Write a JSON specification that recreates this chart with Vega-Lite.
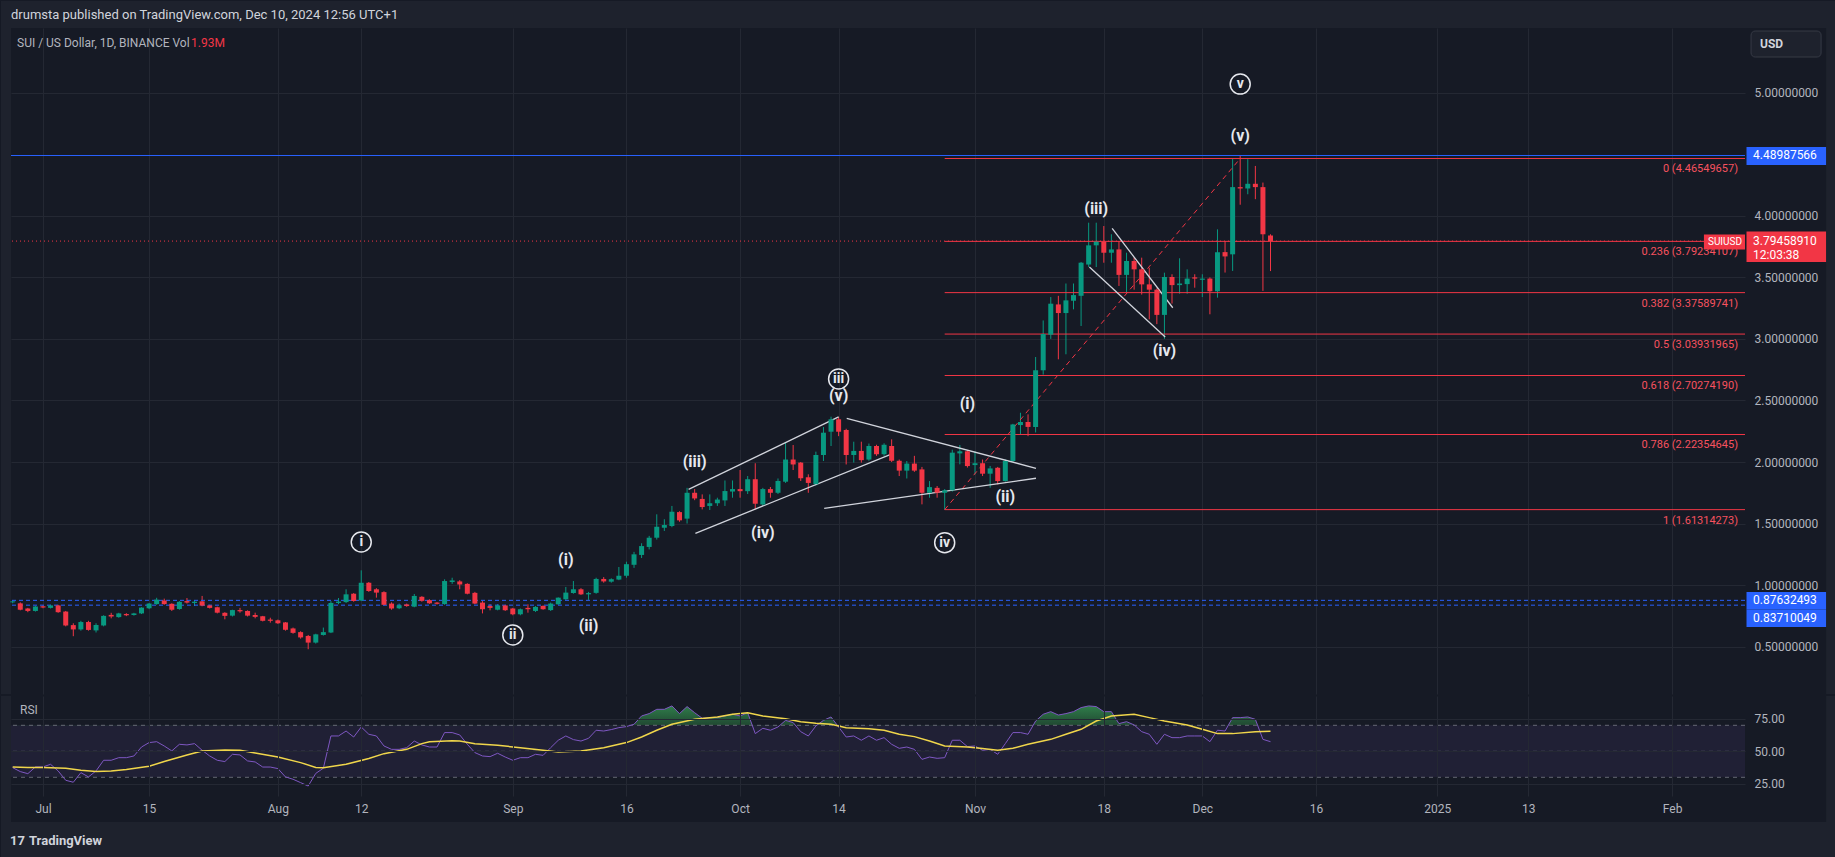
{
"$schema":"https://vega.github.io/schema/vega-lite/v6.json",
"background":"#161a25",
"padding":0,
"config":{"view":{"stroke":null},"font":"Roboto","concat":{"spacing":2},"axis":{"labelFont":"Roboto"},"text":{"font":"Roboto"}},
"datasets":{
"candles":[
{"t":"2024-06-27","o":0.860,"h":0.876,"l":0.852,"c":0.868,"rsi":37.4},
{"t":"2024-06-28","o":0.852,"h":0.86,"l":0.795,"c":0.80,"rsi":34.4},
{"t":"2024-06-29","o":0.81,"h":0.815,"l":0.78,"c":0.79,"rsi":32.8},
{"t":"2024-06-30","o":0.79,"h":0.83,"l":0.785,"c":0.826,"rsi":38},
{"t":"2024-07-01","o":0.828,"h":0.835,"l":0.812,"c":0.818,"rsi":38},
{"t":"2024-07-02","o":0.815,"h":0.84,"l":0.81,"c":0.835,"rsi":40},
{"t":"2024-07-03","o":0.835,"h":0.84,"l":0.775,"c":0.78,"rsi":34.9},
{"t":"2024-07-04","o":0.785,"h":0.79,"l":0.665,"c":0.672,"rsi":27.7},
{"t":"2024-07-05","o":0.675,"h":0.69,"l":0.585,"c":0.64,"rsi":26.2},
{"t":"2024-07-06","o":0.64,"h":0.71,"l":0.63,"c":0.70,"rsi":33.6},
{"t":"2024-07-07","o":0.70,"h":0.71,"l":0.63,"c":0.636,"rsi":30.3},
{"t":"2024-07-08","o":0.632,"h":0.69,"l":0.615,"c":0.676,"rsi":34.9},
{"t":"2024-07-09","o":0.672,"h":0.755,"l":0.665,"c":0.75,"rsi":43.1},
{"t":"2024-07-10","o":0.758,"h":0.775,"l":0.73,"c":0.745,"rsi":43.1},
{"t":"2024-07-11","o":0.74,"h":0.775,"l":0.735,"c":0.77,"rsi":45.1},
{"t":"2024-07-12","o":0.765,"h":0.772,"l":0.748,"c":0.755,"rsi":45.1},
{"t":"2024-07-13","o":0.757,"h":0.775,"l":0.752,"c":0.77,"rsi":46.4},
{"t":"2024-07-14","o":0.77,"h":0.82,"l":0.765,"c":0.817,"rsi":53.3},
{"t":"2024-07-15","o":0.812,"h":0.855,"l":0.805,"c":0.85,"rsi":56.7},
{"t":"2024-07-16","o":0.846,"h":0.897,"l":0.84,"c":0.882,"rsi":57.4},
{"t":"2024-07-17","o":0.875,"h":0.89,"l":0.84,"c":0.846,"rsi":54.1},
{"t":"2024-07-18","o":0.848,"h":0.852,"l":0.79,"c":0.80,"rsi":50.3},
{"t":"2024-07-19","o":0.806,"h":0.87,"l":0.80,"c":0.864,"rsi":55.4},
{"t":"2024-07-20","o":0.87,"h":0.895,"l":0.85,"c":0.858,"rsi":54.9},
{"t":"2024-07-21","o":0.855,"h":0.875,"l":0.83,"c":0.865,"rsi":55.9},
{"t":"2024-07-22","o":0.868,"h":0.912,"l":0.828,"c":0.833,"rsi":50.8},
{"t":"2024-07-23","o":0.835,"h":0.84,"l":0.81,"c":0.815,"rsi":46.4},
{"t":"2024-07-24","o":0.82,"h":0.825,"l":0.77,"c":0.776,"rsi":43.1},
{"t":"2024-07-25","o":0.775,"h":0.78,"l":0.722,"c":0.75,"rsi":42.1},
{"t":"2024-07-26","o":0.752,"h":0.80,"l":0.745,"c":0.797,"rsi":47.7},
{"t":"2024-07-27","o":0.797,"h":0.815,"l":0.776,"c":0.787,"rsi":47.2},
{"t":"2024-07-28","o":0.79,"h":0.795,"l":0.745,"c":0.752,"rsi":42.6},
{"t":"2024-07-29","o":0.757,"h":0.776,"l":0.73,"c":0.742,"rsi":41.8},
{"t":"2024-07-30","o":0.747,"h":0.75,"l":0.705,"c":0.71,"rsi":37.9},
{"t":"2024-07-31","o":0.72,"h":0.735,"l":0.695,"c":0.71,"rsi":37.9},
{"t":"2024-08-01","o":0.714,"h":0.72,"l":0.685,"c":0.69,"rsi":36.7},
{"t":"2024-08-02","o":0.697,"h":0.70,"l":0.63,"c":0.637,"rsi":30.3},
{"t":"2024-08-03","o":0.648,"h":0.655,"l":0.605,"c":0.612,"rsi":28.5},
{"t":"2024-08-04","o":0.618,"h":0.625,"l":0.565,"c":0.575,"rsi":25.9},
{"t":"2024-08-05","o":0.587,"h":0.595,"l":0.479,"c":0.533,"rsi":23.3},
{"t":"2024-08-06","o":0.533,"h":0.605,"l":0.525,"c":0.60,"rsi":33},
{"t":"2024-08-07","o":0.595,"h":0.655,"l":0.59,"c":0.618,"rsi":37},
{"t":"2024-08-08","o":0.615,"h":0.87,"l":0.61,"c":0.855,"rsi":61.8},
{"t":"2024-08-09","o":0.855,"h":0.895,"l":0.845,"c":0.866,"rsi":61.8},
{"t":"2024-08-10","o":0.862,"h":0.966,"l":0.855,"c":0.925,"rsi":65.6},
{"t":"2024-08-11","o":0.93,"h":0.935,"l":0.865,"c":0.871,"rsi":61},
{"t":"2024-08-12","o":0.875,"h":1.12,"l":0.87,"c":1.019,"rsi":68.7},
{"t":"2024-08-13","o":1.019,"h":1.025,"l":0.945,"c":0.952,"rsi":63.1},
{"t":"2024-08-14","o":0.966,"h":0.975,"l":0.898,"c":0.939,"rsi":61.8},
{"t":"2024-08-15","o":0.943,"h":0.95,"l":0.835,"c":0.84,"rsi":54.1},
{"t":"2024-08-16","o":0.85,"h":0.86,"l":0.80,"c":0.81,"rsi":51.5},
{"t":"2024-08-17","o":0.812,"h":0.85,"l":0.805,"c":0.836,"rsi":51.5},
{"t":"2024-08-18","o":0.843,"h":0.85,"l":0.824,"c":0.83,"rsi":52.8},
{"t":"2024-08-19","o":0.825,"h":0.928,"l":0.82,"c":0.912,"rsi":57.9},
{"t":"2024-08-20","o":0.905,"h":0.91,"l":0.865,"c":0.872,"rsi":54.9},
{"t":"2024-08-21","o":0.878,"h":0.885,"l":0.848,"c":0.852,"rsi":53.3},
{"t":"2024-08-22","o":0.858,"h":0.862,"l":0.842,"c":0.848,"rsi":53.3},
{"t":"2024-08-23","o":0.846,"h":1.047,"l":0.84,"c":1.033,"rsi":64.4},
{"t":"2024-08-24","o":1.025,"h":1.06,"l":1.01,"c":1.038,"rsi":64.4},
{"t":"2024-08-25","o":1.03,"h":1.04,"l":0.966,"c":1.005,"rsi":62.6},
{"t":"2024-08-26","o":1.01,"h":1.015,"l":0.925,"c":0.93,"rsi":55.4},
{"t":"2024-08-27","o":0.937,"h":0.945,"l":0.845,"c":0.85,"rsi":49},
{"t":"2024-08-28","o":0.858,"h":0.87,"l":0.77,"c":0.804,"rsi":46.4},
{"t":"2024-08-29","o":0.83,"h":0.845,"l":0.795,"c":0.815,"rsi":45.9},
{"t":"2024-08-30","o":0.80,"h":0.845,"l":0.795,"c":0.835,"rsi":48.5},
{"t":"2024-08-31","o":0.835,"h":0.84,"l":0.79,"c":0.796,"rsi":45.6},
{"t":"2024-09-01","o":0.81,"h":0.815,"l":0.755,"c":0.763,"rsi":43.1},
{"t":"2024-09-02","o":0.763,"h":0.81,"l":0.755,"c":0.804,"rsi":45.1},
{"t":"2024-09-03","o":0.815,"h":0.844,"l":0.776,"c":0.804,"rsi":45.1},
{"t":"2024-09-04","o":0.79,"h":0.83,"l":0.782,"c":0.823,"rsi":47.7},
{"t":"2024-09-05","o":0.831,"h":0.835,"l":0.80,"c":0.804,"rsi":46.9},
{"t":"2024-09-06","o":0.797,"h":0.858,"l":0.79,"c":0.85,"rsi":52.8},
{"t":"2024-09-07","o":0.844,"h":0.90,"l":0.84,"c":0.898,"rsi":58.5},
{"t":"2024-09-08","o":0.885,"h":0.985,"l":0.88,"c":0.939,"rsi":61.8},
{"t":"2024-09-09","o":0.936,"h":1.033,"l":0.93,"c":0.966,"rsi":59},
{"t":"2024-09-10","o":0.966,"h":0.975,"l":0.92,"c":0.925,"rsi":57.9},
{"t":"2024-09-11","o":0.925,"h":0.945,"l":0.88,"c":0.935,"rsi":60},
{"t":"2024-09-12","o":0.937,"h":1.06,"l":0.93,"c":1.05,"rsi":66.2},
{"t":"2024-09-13","o":1.05,"h":1.065,"l":1.02,"c":1.03,"rsi":65.6},
{"t":"2024-09-14","o":1.028,"h":1.055,"l":1.02,"c":1.048,"rsi":66.7},
{"t":"2024-09-15","o":1.045,"h":1.147,"l":1.04,"c":1.076,"rsi":68.2},
{"t":"2024-09-16","o":1.076,"h":1.19,"l":1.06,"c":1.17,"rsi":69},
{"t":"2024-09-17","o":1.165,"h":1.27,"l":1.14,"c":1.25,"rsi":70.8},
{"t":"2024-09-18","o":1.245,"h":1.34,"l":1.22,"c":1.317,"rsi":77.2},
{"t":"2024-09-19","o":1.31,"h":1.40,"l":1.29,"c":1.385,"rsi":79},
{"t":"2024-09-20","o":1.385,"h":1.575,"l":1.37,"c":1.474,"rsi":82.3},
{"t":"2024-09-21","o":1.466,"h":1.535,"l":1.44,"c":1.488,"rsi":82.3},
{"t":"2024-09-22","o":1.48,"h":1.643,"l":1.47,"c":1.596,"rsi":84.9},
{"t":"2024-09-23","o":1.593,"h":1.60,"l":1.515,"c":1.526,"rsi":79},
{"t":"2024-09-24","o":1.54,"h":1.79,"l":1.50,"c":1.75,"rsi":84.4},
{"t":"2024-09-25","o":1.75,"h":1.78,"l":1.69,"c":1.704,"rsi":79.7},
{"t":"2024-09-26","o":1.70,"h":1.737,"l":1.615,"c":1.634,"rsi":75.4},
{"t":"2024-09-27","o":1.643,"h":1.737,"l":1.61,"c":1.665,"rsi":75.9},
{"t":"2024-09-28","o":1.665,"h":1.71,"l":1.643,"c":1.695,"rsi":75.9},
{"t":"2024-09-29","o":1.688,"h":1.85,"l":1.643,"c":1.764,"rsi":77.2},
{"t":"2024-09-30","o":1.76,"h":1.85,"l":1.71,"c":1.78,"rsi":78.5},
{"t":"2024-10-01","o":1.78,"h":1.935,"l":1.71,"c":1.763,"rsi":77.2},
{"t":"2024-10-02","o":1.763,"h":1.886,"l":1.74,"c":1.86,"rsi":79.7},
{"t":"2024-10-03","o":1.86,"h":1.99,"l":1.616,"c":1.661,"rsi":63.6},
{"t":"2024-10-04","o":1.655,"h":1.79,"l":1.643,"c":1.78,"rsi":67.7},
{"t":"2024-10-05","o":1.78,"h":1.797,"l":1.71,"c":1.75,"rsi":66.2},
{"t":"2024-10-06","o":1.75,"h":1.866,"l":1.74,"c":1.846,"rsi":68.7},
{"t":"2024-10-07","o":1.84,"h":2.162,"l":1.83,"c":2.02,"rsi":73.8},
{"t":"2024-10-08","o":2.02,"h":2.138,"l":1.935,"c":1.98,"rsi":72.1},
{"t":"2024-10-09","o":1.995,"h":2.0,"l":1.846,"c":1.868,"rsi":65.1},
{"t":"2024-10-10","o":1.876,"h":1.90,"l":1.75,"c":1.83,"rsi":61.8},
{"t":"2024-10-11","o":1.82,"h":2.084,"l":1.81,"c":2.057,"rsi":69.5},
{"t":"2024-10-12","o":2.057,"h":2.284,"l":2.008,"c":2.238,"rsi":73.8},
{"t":"2024-10-13","o":2.246,"h":2.368,"l":2.13,"c":2.347,"rsi":76.4},
{"t":"2024-10-14","o":2.347,"h":2.366,"l":2.21,"c":2.246,"rsi":68.7},
{"t":"2024-10-15","o":2.26,"h":2.27,"l":1.98,"c":2.057,"rsi":61},
{"t":"2024-10-16","o":2.057,"h":2.165,"l":1.995,"c":2.09,"rsi":61.8},
{"t":"2024-10-17","o":2.09,"h":2.165,"l":1.995,"c":2.015,"rsi":58.5},
{"t":"2024-10-18","o":2.02,"h":2.15,"l":2.01,"c":2.13,"rsi":61.8},
{"t":"2024-10-19","o":2.13,"h":2.14,"l":2.05,"c":2.063,"rsi":58.5},
{"t":"2024-10-20","o":2.063,"h":2.152,"l":2.05,"c":2.14,"rsi":60.5},
{"t":"2024-10-21","o":2.13,"h":2.184,"l":2.0,"c":2.01,"rsi":55.4},
{"t":"2024-10-22","o":2.01,"h":2.02,"l":1.886,"c":1.93,"rsi":52.3},
{"t":"2024-10-23","o":1.93,"h":2.008,"l":1.866,"c":1.987,"rsi":53.3},
{"t":"2024-10-24","o":1.987,"h":2.05,"l":1.92,"c":1.93,"rsi":51.5},
{"t":"2024-10-25","o":1.94,"h":1.96,"l":1.656,"c":1.75,"rsi":43.8},
{"t":"2024-10-26","o":1.75,"h":1.845,"l":1.71,"c":1.796,"rsi":45.6},
{"t":"2024-10-27","o":1.79,"h":1.805,"l":1.71,"c":1.75,"rsi":44.6},
{"t":"2024-10-28","o":1.75,"h":1.78,"l":1.6131,"c":1.77,"rsi":45.1},
{"t":"2024-10-29","o":1.77,"h":2.10,"l":1.76,"c":2.076,"rsi":58.5},
{"t":"2024-10-30","o":2.07,"h":2.138,"l":1.981,"c":2.087,"rsi":58.5},
{"t":"2024-10-31","o":2.087,"h":2.095,"l":1.955,"c":1.967,"rsi":53.6},
{"t":"2024-11-01","o":1.975,"h":2.087,"l":1.90,"c":1.99,"rsi":54.1},
{"t":"2024-11-02","o":1.99,"h":2.02,"l":1.886,"c":1.905,"rsi":50.8},
{"t":"2024-11-03","o":1.905,"h":1.968,"l":1.791,"c":1.948,"rsi":51.5},
{"t":"2024-11-04","o":1.953,"h":1.96,"l":1.818,"c":1.845,"rsi":47.7},
{"t":"2024-11-05","o":1.845,"h":2.02,"l":1.84,"c":2.008,"rsi":55.9},
{"t":"2024-11-06","o":2.008,"h":2.31,"l":2.0,"c":2.305,"rsi":64.4},
{"t":"2024-11-07","o":2.30,"h":2.40,"l":2.225,"c":2.325,"rsi":64.4},
{"t":"2024-11-08","o":2.325,"h":2.387,"l":2.21,"c":2.285,"rsi":63.1},
{"t":"2024-11-09","o":2.285,"h":2.853,"l":2.24,"c":2.745,"rsi":73.3},
{"t":"2024-11-10","o":2.745,"h":3.15,"l":2.71,"c":3.04,"rsi":78.5},
{"t":"2024-11-11","o":3.034,"h":3.34,"l":3.0,"c":3.286,"rsi":80.5},
{"t":"2024-11-12","o":3.28,"h":3.35,"l":2.834,"c":3.21,"rsi":77.9},
{"t":"2024-11-13","o":3.21,"h":3.45,"l":2.875,"c":3.313,"rsi":79},
{"t":"2024-11-14","o":3.31,"h":3.45,"l":3.24,"c":3.356,"rsi":80.5},
{"t":"2024-11-15","o":3.35,"h":3.625,"l":3.105,"c":3.619,"rsi":83.6},
{"t":"2024-11-16","o":3.604,"h":3.944,"l":3.584,"c":3.76,"rsi":84.9},
{"t":"2024-11-17","o":3.76,"h":3.944,"l":3.584,"c":3.79,"rsi":84.4},
{"t":"2024-11-18","o":3.79,"h":3.917,"l":3.619,"c":3.70,"rsi":80.5},
{"t":"2024-11-19","o":3.70,"h":3.85,"l":3.619,"c":3.727,"rsi":80.5},
{"t":"2024-11-20","o":3.727,"h":3.795,"l":3.43,"c":3.52,"rsi":71.3},
{"t":"2024-11-21","o":3.52,"h":3.70,"l":3.375,"c":3.633,"rsi":72.8},
{"t":"2024-11-22","o":3.633,"h":3.66,"l":3.40,"c":3.565,"rsi":70.3},
{"t":"2024-11-23","o":3.565,"h":3.66,"l":3.36,"c":3.443,"rsi":65.1},
{"t":"2024-11-24","o":3.443,"h":3.578,"l":3.159,"c":3.40,"rsi":63.1},
{"t":"2024-11-25","o":3.40,"h":3.41,"l":3.12,"c":3.195,"rsi":55.4},
{"t":"2024-11-26","o":3.195,"h":3.538,"l":3.0,"c":3.503,"rsi":63.1},
{"t":"2024-11-27","o":3.503,"h":3.525,"l":3.287,"c":3.437,"rsi":60.5},
{"t":"2024-11-28","o":3.437,"h":3.655,"l":3.367,"c":3.45,"rsi":60.5},
{"t":"2024-11-29","o":3.445,"h":3.565,"l":3.367,"c":3.49,"rsi":61.8},
{"t":"2024-11-30","o":3.50,"h":3.525,"l":3.416,"c":3.49,"rsi":61.8},
{"t":"2024-12-01","o":3.48,"h":3.525,"l":3.34,"c":3.49,"rsi":61.8},
{"t":"2024-12-02","o":3.49,"h":3.50,"l":3.20,"c":3.387,"rsi":57.4},
{"t":"2024-12-03","o":3.387,"h":3.89,"l":3.335,"c":3.704,"rsi":66.2},
{"t":"2024-12-04","o":3.705,"h":3.795,"l":3.539,"c":3.67,"rsi":65.6},
{"t":"2024-12-05","o":3.687,"h":4.4655,"l":3.552,"c":4.233,"rsi":75.9},
{"t":"2024-12-06","o":4.233,"h":4.4899,"l":4.09,"c":4.222,"rsi":75.9},
{"t":"2024-12-07","o":4.222,"h":4.46,"l":4.175,"c":4.26,"rsi":76.4},
{"t":"2024-12-08","o":4.26,"h":4.405,"l":4.135,"c":4.233,"rsi":74.6},
{"t":"2024-12-09","o":4.233,"h":4.27,"l":3.39,"c":3.85,"rsi":59.2},
{"t":"2024-12-10","o":3.84,"h":3.85,"l":3.551,"c":3.7946,"rsi":57.4}
],
"ma":[
{"t":"2024-06-27","ma":37.9},{"t":"2024-06-29","ma":37.5},{"t":"2024-07-01","ma":37.6},{"t":"2024-07-04","ma":37.0},{"t":"2024-07-06","ma":35.4},{"t":"2024-07-08","ma":34.4},{"t":"2024-07-10","ma":34.8},{"t":"2024-07-12","ma":36.0},{"t":"2024-07-15","ma":38.5},{"t":"2024-07-17","ma":42.1},{"t":"2024-07-20","ma":47.2},{"t":"2024-07-22","ma":50.3},{"t":"2024-07-25","ma":51.0},{"t":"2024-07-27","ma":50.8},{"t":"2024-07-29","ma":48.7},{"t":"2024-08-01","ma":45.6},{"t":"2024-08-04","ma":41.3},{"t":"2024-08-06","ma":37.6},{"t":"2024-08-07","ma":37.4},{"t":"2024-08-10","ma":40.0},{"t":"2024-08-13","ma":44.4},{"t":"2024-08-15","ma":48.2},{"t":"2024-08-18","ma":51.5},{"t":"2024-08-20","ma":55.9},{"t":"2024-08-21","ma":57.4},{"t":"2024-08-24","ma":58.2},{"t":"2024-08-25","ma":57.9},{"t":"2024-08-27","ma":55.9},{"t":"2024-08-30","ma":54.6},{"t":"2024-09-02","ma":52.8},{"t":"2024-09-05","ma":50.8},{"t":"2024-09-07","ma":49.5},{"t":"2024-09-10","ma":50.3},{"t":"2024-09-13","ma":52.8},{"t":"2024-09-16","ma":56.7},{"t":"2024-09-18","ma":61.0},{"t":"2024-09-20","ma":66.2},{"t":"2024-09-22","ma":70.8},{"t":"2024-09-25","ma":74.6},{"t":"2024-09-28","ma":76.4},{"t":"2024-09-30","ma":78.5},{"t":"2024-10-02","ma":79.7},{"t":"2024-10-04","ma":77.2},{"t":"2024-10-07","ma":75.1},{"t":"2024-10-09","ma":72.8},{"t":"2024-10-11","ma":71.5},{"t":"2024-10-13","ma":70.8},{"t":"2024-10-15","ma":68.2},{"t":"2024-10-18","ma":67.4},{"t":"2024-10-20","ma":66.2},{"t":"2024-10-22","ma":63.1},{"t":"2024-10-24","ma":61.3},{"t":"2024-10-26","ma":57.9},{"t":"2024-10-28","ma":54.1},{"t":"2024-10-31","ma":53.3},{"t":"2024-11-02","ma":52.1},{"t":"2024-11-04","ma":50.8},{"t":"2024-11-06","ma":52.3},{"t":"2024-11-08","ma":55.4},{"t":"2024-11-11","ma":59.2},{"t":"2024-11-13","ma":63.1},{"t":"2024-11-15","ma":66.9},{"t":"2024-11-17","ma":73.3},{"t":"2024-11-19","ma":77.2},{"t":"2024-11-22","ma":78.5},{"t":"2024-11-24","ma":75.9},{"t":"2024-11-26","ma":73.3},{"t":"2024-11-29","ma":70.3},{"t":"2024-12-01","ma":66.9},{"t":"2024-12-03","ma":63.6},{"t":"2024-12-05","ma":63.6},{"t":"2024-12-08","ma":65.1},{"t":"2024-12-10","ma":65.4}
],
"fib":[
{"level":"0","p":4.46549657,"label":"0 (4.46549657)"},
{"level":"0.236","p":3.79234107,"label":"0.236 (3.79234107)"},
{"level":"0.382","p":3.37589741,"label":"0.382 (3.37589741)"},
{"level":"0.5","p":3.03931965,"label":"0.5 (3.03931965)"},
{"level":"0.618","p":2.7027419,"label":"0.618 (2.70274190)"},
{"level":"0.786","p":2.22354645,"label":"0.786 (2.22354645)"},
{"level":"1","p":1.61314273,"label":"1 (1.61314273)"}
],
"hlines":[
{"name":"ath","p":4.48987566,"style":"solid"},
{"name":"last","p":3.7945891,"style":"dotted","countdown":"12:03:38","symbol":"SUIUSD"},
{"name":"s1","p":0.87632493,"style":"dashed"},
{"name":"s2","p":0.83710049,"style":"dashed"}
],
"trend":[{"t1":"2024-10-28","p1":1.61314273,"t2":"2024-12-06","p2":4.46549657}],
"wedges":[
{"t1":"2024-09-24T04:48:00Z","p1":1.778,"t2":"2024-10-14T00:00:00Z","p2":2.366},
{"t1":"2024-09-25T02:24:00Z","p1":1.421,"t2":"2024-10-20T19:12:00Z","p2":2.06},
{"t1":"2024-10-15T01:41:00Z","p1":2.355,"t2":"2024-11-09T01:12:00Z","p2":1.949},
{"t1":"2024-10-12T02:24:00Z","p1":1.624,"t2":"2024-11-09T01:12:00Z","p2":1.868},
{"t1":"2024-11-19T02:24:00Z","p1":3.898,"t2":"2024-11-27T02:24:00Z","p2":3.253},
{"t1":"2024-11-16T02:24:00Z","p1":3.584,"t2":"2024-11-26T02:24:00Z","p2":3.015}
],
"waves":[
{"label":"(i)","t":"2024-09-08","p":1.205},
{"label":"(ii)","t":"2024-09-11","p":0.665},
{"label":"(iii)","t":"2024-09-25","p":2.0},
{"label":"(iv)","t":"2024-10-04","p":1.425},
{"label":"(v)","t":"2024-10-14","p":2.537},
{"label":"(i)","t":"2024-10-31","p":2.474},
{"label":"(ii)","t":"2024-11-05","p":1.712},
{"label":"(iii)","t":"2024-11-17","p":4.053},
{"label":"(iv)","t":"2024-11-26","p":2.905},
{"label":"(v)","t":"2024-12-06","p":4.65}
],
"circled":[
{"label":"i","t":"2024-08-12","p":1.35},
{"label":"ii","t":"2024-09-01","p":0.595},
{"label":"iii","t":"2024-10-14","p":2.675},
{"label":"iv","t":"2024-10-28","p":1.345},
{"label":"v","t":"2024-12-06","p":5.07}
],
"rsiLevels":[{"level":70},{"level":50},{"level":30}]
},
"vconcat":[
{
"width":1734,"height":666,
"view":{"fill":"#161a25","stroke":null},
"layer":[
{"data":{"name":"candles"},"mark":{"type":"rule","strokeWidth":1},"encoding":{
"x":{"field":"t","type":"temporal","scale":{"type":"utc","padding":0,"domain":[{"year":2024,"month":6,"date":26,"hours":18,"minutes":39,"utc":true},{"year":2025,"month":2,"date":10,"hours":14,"minutes":53,"utc":true}]},"axis":{"values":[{"year":2024,"month":7,"date":1,"utc":true},{"year":2024,"month":7,"date":15,"utc":true},{"year":2024,"month":8,"date":1,"utc":true},{"year":2024,"month":8,"date":12,"utc":true},{"year":2024,"month":9,"date":1,"utc":true},{"year":2024,"month":9,"date":16,"utc":true},{"year":2024,"month":10,"date":1,"utc":true},{"year":2024,"month":10,"date":14,"utc":true},{"year":2024,"month":11,"date":1,"utc":true},{"year":2024,"month":11,"date":18,"utc":true},{"year":2024,"month":12,"date":1,"utc":true},{"year":2024,"month":12,"date":16,"utc":true},{"year":2025,"month":1,"date":1,"utc":true},{"year":2025,"month":1,"date":13,"utc":true},{"year":2025,"month":2,"date":1,"utc":true}],"labels":false,"ticks":false,"domain":false,"grid":true,"gridColor":"#242833","title":null}},
"y":{"field":"l","type":"quantitative","scale":{"domain":[0.1154,5.5256],"nice":false,"zero":false,"padding":0},"axis":{"orient":"right","values":[0.5,1,1.5,2,2.5,3,3.5,4,5],"format":".8f","grid":true,"gridColor":"#242833","ticks":false,"domain":false,"labelColor":"#b2b5be","labelFontSize":12,"labelPadding":9,"labelOverlap":false,"title":null}},
"y2":{"field":"h"},
"color":{"condition":{"test":"datum.c >= datum.o","value":"#089981"},"value":"#f23645"}}},
{"data":{"values":[{}]},"mark":{"type":"rect","color":"#1e222d","clip":false},"encoding":{"x":{"datum":{"year":2024,"month":6,"date":25,"hours":10,"minutes":58,"utc":true},"type":"temporal"},"x2":{"datum":{"year":2025,"month":2,"date":22,"hours":15,"minutes":22,"utc":true}},"y":{"datum":5.745,"type":"quantitative"},"y2":{"datum":5.5256}}},
{"data":{"values":[{}]},"mark":{"type":"rect","color":"#1e222d","clip":false},"encoding":{"x":{"datum":{"year":2024,"month":6,"date":25,"hours":10,"minutes":58,"utc":true},"type":"temporal"},"x2":{"datum":{"year":2024,"month":6,"date":26,"hours":18,"minutes":39,"utc":true}},"y":{"datum":5.5256,"type":"quantitative"},"y2":{"datum":0.1154}}},
{"data":{"values":[{}]},"mark":{"type":"rect","color":"#1e222d","clip":false},"encoding":{"x":{"datum":{"year":2025,"month":2,"date":21,"hours":7,"minutes":41,"utc":true},"type":"temporal"},"x2":{"datum":{"year":2025,"month":2,"date":22,"hours":15,"minutes":22,"utc":true}},"y":{"datum":5.5256,"type":"quantitative"},"y2":{"datum":0.1154}}},
{"data":{"values":[{}]},"mark":{"type":"rect","fill":"#1e222d","stroke":"#363a45","strokeWidth":1,"cornerRadius":4,"clip":false},"encoding":{"x":{"datum":{"year":2025,"month":2,"date":11,"hours":10,"minutes":5,"utc":true},"type":"temporal"},"x2":{"datum":{"year":2025,"month":2,"date":20,"hours":15,"minutes":50,"utc":true}},"y":{"datum":5.501,"type":"quantitative"},"y2":{"datum":5.29}}},
{"data":{"values":[{}]},"mark":{"type":"text","text":"USD","align":"left","baseline":"middle","color":"#d1d4dc","fontSize":12,"fontWeight":"bold","clip":false},"encoding":{"x":{"datum":{"year":2025,"month":2,"date":12,"hours":14,"minutes":38,"utc":true},"type":"temporal"},"y":{"datum":5.3956,"type":"quantitative"}}},
{"data":{"name":"hlines"},"transform":[{"filter":"datum.style == 'solid'"}],"mark":{"type":"rule","color":"#2962ff","strokeWidth":1},"encoding":{"y":{"field":"p","type":"quantitative"}}},
{"data":{"name":"hlines"},"transform":[{"filter":"datum.style == 'dashed'"}],"mark":{"type":"rule","color":"#2962ff","strokeWidth":1,"strokeDash":[4,3]},"encoding":{"y":{"field":"p","type":"quantitative"}}},
{"data":{"name":"hlines"},"transform":[{"filter":"datum.style == 'dotted'"}],"mark":{"type":"rule","color":"#f23645","strokeWidth":1,"strokeDash":[1,3]},"encoding":{"y":{"field":"p","type":"quantitative"}}},
{"data":{"name":"fib"},"mark":{"type":"rule","color":"#f23645","strokeWidth":1},"encoding":{"x":{"datum":{"year":2024,"month":10,"date":28,"utc":true},"type":"temporal"},"x2":{"datum":{"year":2025,"month":2,"date":10,"hours":14,"minutes":53,"utc":true}},"y":{"field":"p","type":"quantitative"}}},
{"data":{"name":"trend"},"mark":{"type":"rule","color":"#f23645","strokeWidth":1,"strokeDash":[5,4]},"encoding":{"x":{"field":"t1","type":"temporal"},"x2":{"field":"t2"},"y":{"field":"p1","type":"quantitative"},"y2":{"field":"p2"}}},
{"data":{"name":"wedges"},"mark":{"type":"rule","color":"#d1d4dc","strokeWidth":1.3},"encoding":{"x":{"field":"t1","type":"temporal"},"x2":{"field":"t2"},"y":{"field":"p1","type":"quantitative"},"y2":{"field":"p2"}}},
{"data":{"name":"candles"},"mark":{"type":"bar","size":5},"encoding":{"x":{"field":"t","type":"temporal"},"y":{"field":"o","type":"quantitative"},"y2":{"field":"c"},"color":{"condition":{"test":"datum.c >= datum.o","value":"#089981"},"value":"#f23645"}}},
{"data":{"name":"fib"},"mark":{"type":"text","align":"right","baseline":"middle","dx":-7,"dy":11,"color":"#f7525f","fontSize":11},"encoding":{"x":{"datum":{"year":2025,"month":2,"date":10,"hours":14,"minutes":53,"utc":true},"type":"temporal"},"y":{"field":"p","type":"quantitative"},"text":{"field":"label"}}},
{"data":{"name":"waves"},"mark":{"type":"text","align":"center","baseline":"middle","color":"#e6e8ee","fontSize":16,"fontWeight":"bold"},"encoding":{"x":{"field":"t","type":"temporal"},"y":{"field":"p","type":"quantitative"},"text":{"field":"label"}}},
{"data":{"name":"circled"},"mark":{"type":"point","shape":"circle","size":400,"filled":false,"stroke":"#e6e8ee","strokeWidth":1.5,"opacity":1},"encoding":{"x":{"field":"t","type":"temporal"},"y":{"field":"p","type":"quantitative"}}},
{"data":{"name":"circled"},"mark":{"type":"text","align":"center","baseline":"middle","color":"#e6e8ee","fontSize":14,"fontWeight":"bold"},"encoding":{"x":{"field":"t","type":"temporal"},"y":{"field":"p","type":"quantitative"},"text":{"field":"label"}}},
{"data":{"values":[{}]},"mark":{"type":"rect","color":"#2962ff","clip":false},"encoding":{"x":{"datum":{"year":2025,"month":2,"date":10,"hours":19,"minutes":41,"utc":true},"type":"temporal"},"x2":{"datum":{"year":2025,"month":2,"date":21,"hours":7,"minutes":41,"utc":true}},"y":{"datum":4.5596,"type":"quantitative"},"y2":{"datum":4.4134}}},
{"data":{"values":[{}]},"mark":{"type":"rect","color":"#2962ff","clip":false},"encoding":{"x":{"datum":{"year":2025,"month":2,"date":10,"hours":19,"minutes":41,"utc":true},"type":"temporal"},"x2":{"datum":{"year":2025,"month":2,"date":21,"hours":7,"minutes":41,"utc":true}},"y":{"datum":0.9437,"type":"quantitative"},"y2":{"datum":0.8018}}},
{"data":{"values":[{}]},"mark":{"type":"rect","color":"#2962ff","clip":false},"encoding":{"x":{"datum":{"year":2025,"month":2,"date":10,"hours":19,"minutes":41,"utc":true},"type":"temporal"},"x2":{"datum":{"year":2025,"month":2,"date":21,"hours":7,"minutes":41,"utc":true}},"y":{"datum":0.8018,"type":"quantitative"},"y2":{"datum":0.6596}}},
{"data":{"values":[{}]},"mark":{"type":"rect","color":"#f23645","clip":false},"encoding":{"x":{"datum":{"year":2025,"month":2,"date":10,"hours":19,"minutes":41,"utc":true},"type":"temporal"},"x2":{"datum":{"year":2025,"month":2,"date":21,"hours":7,"minutes":41,"utc":true}},"y":{"datum":3.8725,"type":"quantitative"},"y2":{"datum":3.6247}}},
{"data":{"values":[{}]},"mark":{"type":"rect","color":"#f23645","clip":false},"encoding":{"x":{"datum":{"year":2025,"month":2,"date":5,"hours":4,"minutes":48,"utc":true},"type":"temporal"},"x2":{"datum":{"year":2025,"month":2,"date":10,"hours":14,"minutes":53,"utc":true}},"y":{"datum":3.8481,"type":"quantitative"},"y2":{"datum":3.7263}}},
{"data":{"name":"hlines"},"transform":[{"filter":"datum.name != 's2'"}],"mark":{"type":"text","align":"left","baseline":"middle","dx":8,"color":"#ffffff","fontSize":12,"clip":false},"encoding":{"x":{"datum":{"year":2025,"month":2,"date":10,"hours":14,"minutes":53,"utc":true},"type":"temporal"},"y":{"field":"p","type":"quantitative"},"text":{"field":"p","type":"quantitative","format":".8f"}}},
{"data":{"name":"hlines"},"transform":[{"filter":"datum.name == 's2'"}],"mark":{"type":"text","align":"left","baseline":"middle","dx":8,"dy":13,"color":"#ffffff","fontSize":12,"clip":false},"encoding":{"x":{"datum":{"year":2025,"month":2,"date":10,"hours":14,"minutes":53,"utc":true},"type":"temporal"},"y":{"field":"p","type":"quantitative"},"text":{"field":"p","type":"quantitative","format":".8f"}}},
{"data":{"name":"hlines"},"transform":[{"filter":"datum.name == 'last'"}],"mark":{"type":"text","align":"left","baseline":"middle","dx":8,"dy":14,"color":"#ffffff","fontSize":12,"clip":false},"encoding":{"x":{"datum":{"year":2025,"month":2,"date":10,"hours":14,"minutes":53,"utc":true},"type":"temporal"},"y":{"field":"p","type":"quantitative"},"text":{"field":"countdown"}}},
{"data":{"name":"hlines"},"transform":[{"filter":"datum.name == 'last'"}],"mark":{"type":"text","align":"center","baseline":"middle","dx":-20,"dy":1,"color":"#ffffff","fontSize":10,"clip":false},"encoding":{"x":{"datum":{"year":2025,"month":2,"date":10,"hours":14,"minutes":53,"utc":true},"type":"temporal"},"y":{"field":"p","type":"quantitative"},"text":{"field":"symbol"}}},
{"data":{"values":[{}]},"mark":{"type":"text","text":"drumsta published on TradingView.com, Dec 10, 2024 12:56 UTC+1","align":"left","baseline":"middle","color":"#d1d4dc","fontSize":13,"clip":false},"encoding":{"x":{"datum":{"year":2024,"month":6,"date":26,"hours":18,"minutes":39,"utc":true},"type":"temporal"},"y":{"datum":5.635,"type":"quantitative"}}},
{"data":{"values":[{}]},"mark":{"type":"text","text":"SUI / US Dollar, 1D, BINANCE  Vol","align":"left","baseline":"middle","dx":6,"color":"#b2b5be","fontSize":12},"encoding":{"x":{"datum":{"year":2024,"month":6,"date":26,"hours":18,"minutes":39,"utc":true},"type":"temporal"},"y":{"datum":5.4045,"type":"quantitative"}}},
{"data":{"values":[{}]},"mark":{"type":"text","text":"1.93M","align":"left","baseline":"middle","dx":180,"color":"#f23645","fontSize":12},"encoding":{"x":{"datum":{"year":2024,"month":6,"date":26,"hours":18,"minutes":39,"utc":true},"type":"temporal"},"y":{"datum":5.4045,"type":"quantitative"}}}
]
},
{
"width":1734,"height":100,
"view":{"fill":"#161a25","stroke":null},
"layer":[
{"data":{"name":"candles"},"mark":{"type":"area","color":{"gradient":"linear","x1":0,"y1":0,"x2":0,"y2":1,"stops":[{"offset":0,"color":"#2f7d4a"},{"offset":0.3,"color":"#1d3b2c"},{"offset":1,"color":"#1d3b2c"}]}},"encoding":{
"x":{"field":"t","type":"temporal","scale":{"type":"utc","padding":0,"domain":[{"year":2024,"month":6,"date":26,"hours":18,"minutes":39,"utc":true},{"year":2025,"month":2,"date":10,"hours":14,"minutes":53,"utc":true}]},"axis":{"orient":"bottom","values":[{"year":2024,"month":7,"date":1,"utc":true},{"year":2024,"month":7,"date":15,"utc":true},{"year":2024,"month":8,"date":1,"utc":true},{"year":2024,"month":8,"date":12,"utc":true},{"year":2024,"month":9,"date":1,"utc":true},{"year":2024,"month":9,"date":16,"utc":true},{"year":2024,"month":10,"date":1,"utc":true},{"year":2024,"month":10,"date":14,"utc":true},{"year":2024,"month":11,"date":1,"utc":true},{"year":2024,"month":11,"date":18,"utc":true},{"year":2024,"month":12,"date":1,"utc":true},{"year":2024,"month":12,"date":16,"utc":true},{"year":2025,"month":1,"date":1,"utc":true},{"year":2025,"month":1,"date":13,"utc":true},{"year":2025,"month":2,"date":1,"utc":true}],"labelExpr":"utcdate(datum.value) == 1 ? (utcmonth(datum.value) == 0 ? utcFormat(datum.value, '%Y') : utcFormat(datum.value, '%b')) : utcFormat(datum.value, '%-d')","labelColor":"#b2b5be","labelFontSize":12,"labelPadding":7,"labelOverlap":false,"labelFlush":false,"ticks":false,"domain":false,"grid":true,"gridColor":"#242833","title":null,"zindex":1}},
"y":{"field":"rsi","type":"quantitative","scale":{"domain":[15.62,92.54],"nice":false,"zero":false,"padding":0},"axis":{"orient":"right","values":[25,50,75],"format":".2f","grid":true,"gridColor":"#242833","ticks":false,"domain":false,"labelColor":"#b2b5be","labelFontSize":12,"labelPadding":9,"title":null,"zindex":1}},
"y2":{"datum":70}}},
{"data":{"values":[{}]},"mark":{"type":"rect","color":"#1e222d","clip":false},"encoding":{"x":{"datum":{"year":2024,"month":6,"date":25,"hours":10,"minutes":58,"utc":true},"type":"temporal"},"x2":{"datum":{"year":2024,"month":6,"date":26,"hours":18,"minutes":39,"utc":true}},"y":{"datum":92.54,"type":"quantitative"},"y2":{"datum":-4.38}}},
{"data":{"values":[{}]},"mark":{"type":"rect","color":"#1e222d","clip":false},"encoding":{"x":{"datum":{"year":2025,"month":2,"date":21,"hours":7,"minutes":41,"utc":true},"type":"temporal"},"x2":{"datum":{"year":2025,"month":2,"date":22,"hours":15,"minutes":22,"utc":true}},"y":{"datum":92.54,"type":"quantitative"},"y2":{"datum":-4.38}}},
{"data":{"values":[{}]},"mark":{"type":"rect","color":"#1e222d","clip":false},"encoding":{"x":{"datum":{"year":2024,"month":6,"date":25,"hours":10,"minutes":58,"utc":true},"type":"temporal"},"x2":{"datum":{"year":2025,"month":2,"date":22,"hours":15,"minutes":22,"utc":true}},"y":{"datum":-4.38,"type":"quantitative"},"y2":{"datum":-32.08}}},
{"data":{"values":[{}]},"mark":{"type":"rect","color":"#202035"},"encoding":{"x":{"datum":{"year":2024,"month":6,"date":26,"hours":18,"minutes":39,"utc":true},"type":"temporal"},"x2":{"datum":{"year":2025,"month":2,"date":10,"hours":14,"minutes":53,"utc":true}},"y":{"datum":70,"type":"quantitative"},"y2":{"datum":30}}},
{"data":{"values":[{}]},"mark":{"type":"rect","color":"#161a25"},"encoding":{"x":{"datum":{"year":2024,"month":6,"date":26,"hours":18,"minutes":39,"utc":true},"type":"temporal"},"x2":{"datum":{"year":2025,"month":2,"date":10,"hours":14,"minutes":53,"utc":true}},"y":{"datum":30,"type":"quantitative"},"y2":{"datum":15.62}}},
{"data":{"name":"rsiLevels"},"mark":{"type":"rule","color":"#787b86","strokeDash":[4,4],"strokeWidth":1,"opacity":0.8},"encoding":{"y":{"field":"level","type":"quantitative"}}},
{"data":{"name":"candles"},"mark":{"type":"line","color":"#7e57c2","strokeWidth":1},"encoding":{"x":{"field":"t","type":"temporal"},"y":{"field":"rsi","type":"quantitative"}}},
{"data":{"name":"ma"},"mark":{"type":"line","color":"#f0d64b","strokeWidth":1.5},"encoding":{"x":{"field":"t","type":"temporal"},"y":{"field":"ma","type":"quantitative"}}},
{"data":{"values":[{}]},"mark":{"type":"text","text":"RSI","align":"left","baseline":"middle","dx":9,"color":"#b2b5be","fontSize":12},"encoding":{"x":{"datum":{"year":2024,"month":6,"date":26,"hours":18,"minutes":39,"utc":true},"type":"temporal"},"y":{"datum":81.5,"type":"quantitative"}}},
{"data":{"values":[{}]},"mark":{"type":"text","text":"17","align":"left","baseline":"middle","dx":-1,"color":"#d1d4dc","fontSize":13,"fontWeight":"bold","clip":false},"encoding":{"x":{"datum":{"year":2024,"month":6,"date":26,"hours":18,"minutes":39,"utc":true},"type":"temporal"},"y":{"datum":-19,"type":"quantitative"}}},
{"data":{"values":[{}]},"mark":{"type":"text","text":"TradingView","align":"left","baseline":"middle","dx":18,"color":"#d1d4dc","fontSize":13,"fontWeight":"bold","clip":false},"encoding":{"x":{"datum":{"year":2024,"month":6,"date":26,"hours":18,"minutes":39,"utc":true},"type":"temporal"},"y":{"datum":-19,"type":"quantitative"}}}
]
}
]
}
